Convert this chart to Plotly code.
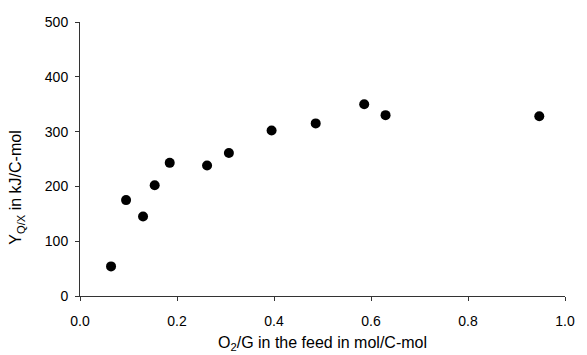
import plotly.graph_objects as go

o2_g = [0.064, 0.095, 0.130, 0.154, 0.185, 0.262, 0.307, 0.395, 0.486, 0.586, 0.630, 0.947]
y_qx = [54, 175, 145, 202, 243, 238, 261, 302, 315, 350, 330, 328]

x_ticks = [0.0, 0.2, 0.4, 0.6, 0.8, 1.0]
x_tick_labels = ["0.0", "0.2", "0.4", "0.6", "0.8", "1.0"]
y_ticks = [0, 100, 200, 300, 400, 500]

font_family = "Liberation Sans, Arial, sans-serif"

fig = go.Figure()
fig.add_trace(go.Scatter(
    x=o2_g, y=y_qx, mode="markers",
    marker=dict(color="black", size=10, line=dict(width=0)),
    showlegend=False,
))

fig.update_layout(
    width=587, height=355,
    margin=dict(l=80, r=12, t=22, b=59),
    paper_bgcolor="white", plot_bgcolor="white",
    font=dict(family=font_family, size=14, color="black"),
    xaxis=dict(
        range=[0, 1], tickvals=x_ticks, ticktext=x_tick_labels,
        showgrid=False, zeroline=False, showline=True, linecolor="#333", linewidth=1,
        ticks="outside", ticklen=4, tickcolor="#333",
        tickfont=dict(size=14), ticklabelstandoff=8,
    ),
    yaxis=dict(
        range=[0, 500], tickvals=y_ticks,
        showgrid=False, zeroline=False, showline=True, linecolor="#333", linewidth=1,
        ticks="outside", ticklen=4, tickcolor="#333",
        tickfont=dict(size=14), ticklabelstandoff=4,
    ),
    annotations=[
        dict(text="O<sub>2</sub>/G in the feed in mol/C-mol", xref="paper", yref="paper",
             x=0.5, y=-0.172, xanchor="center", yanchor="middle",
             showarrow=False, font=dict(size=16)),
        dict(text="Y<sub>Q/X</sub> in kJ/C-mol", xref="paper", yref="paper",
             x=-0.13, y=0.395, xanchor="center", yanchor="middle", textangle=-90,
             showarrow=False, font=dict(size=16)),
    ],
)

fig.write_html("out.html")
